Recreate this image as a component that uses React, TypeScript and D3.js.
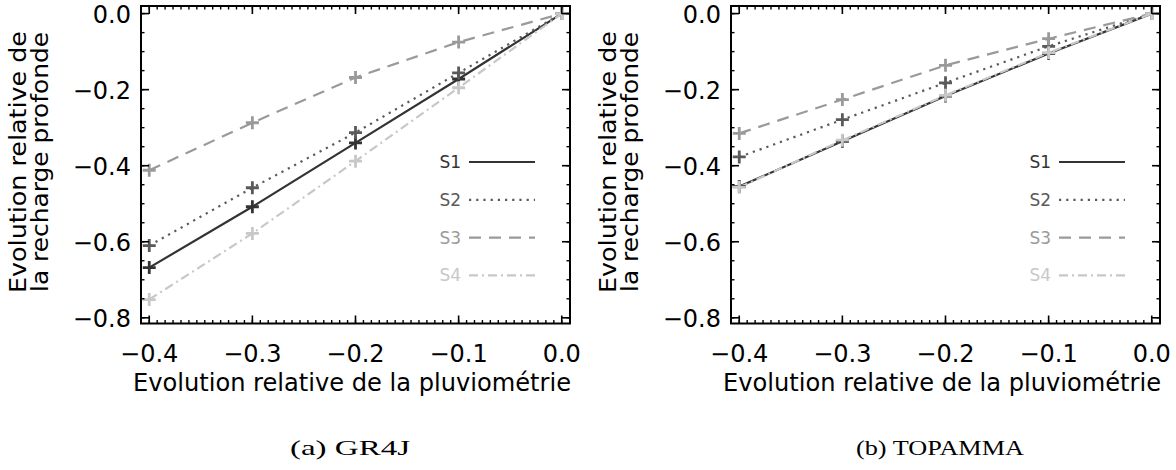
import React from "react";
import * as d3 from "d3";

// ---------- data ----------
const rainChange = [-0.4, -0.3, -0.2, -0.1, 0.0];
const seriesNames = ["S1", "S2", "S3", "S4"];

const gr4jS1 = [-0.668, -0.508, -0.34, -0.172, 0];
const gr4jS2 = [-0.61, -0.458, -0.313, -0.156, 0];
const gr4jS3 = [-0.412, -0.287, -0.168, -0.075, 0];
const gr4jS4 = [-0.752, -0.578, -0.388, -0.195, 0];

const topammaS1 = [-0.455, -0.336, -0.217, -0.105, 0];
const topammaS2 = [-0.377, -0.279, -0.182, -0.086, 0];
const topammaS3 = [-0.315, -0.226, -0.136, -0.066, 0];
const topammaS4 = [-0.457, -0.333, -0.215, -0.103, 0];

const xTicks = [-0.4, -0.3, -0.2, -0.1, 0.0];
const yTicks = [0.0, -0.2, -0.4, -0.6, -0.8];

const xTitle = "Evolution relative de la pluviométrie";
const yTitle1 = "Evolution relative de";
const yTitle2 = "la recharge profonde";
const captions = ["(a) GR4J", "(b) TOPAMMA"];

// ---------- styles ----------
const seriesStyle = [
  { color: "#333333", dash: "none" },
  { color: "#5a5a5a", dash: "2.2,5" },
  { color: "#9a9a9a", dash: "12,8" },
  { color: "#c8c8c8", dash: "9,4,2,4" },
];

const SANS = "'DejaVu Sans', Verdana, sans-serif";
const SERIF = "'Liberation Serif', 'DejaVu Serif', serif";

type PanelProps = {
  ox: number;
  data: number[][];
  caption: string;
  captionLen: number;
};

function Panel({ ox, data, caption, captionLen }: PanelProps) {
  const L = ox + 141;
  const R = ox + 570;
  const T = 6;
  const B = 323.5;
  const x = d3.scaleLinear().domain([-0.408, 0.008]).range([L, R]);
  const y = d3.scaleLinear().domain([0.02, -0.815]).range([T, B]);
  const fmt = d3.format(".1f");

  const line = d3
    .line<number>()
    .x((_, i) => x(rainChange[i]))
    .y((d) => y(d));

  // minor ticks
  const xMinor: number[] = [];
  const xStep = 0.1 / 13;
  for (let k = -60; k <= 60; k++) {
    const v = -0.4 + k * xStep;
    if (v > -0.408 && v < 0.008) xMinor.push(v);
  }
  const yMinor: number[] = [];
  for (let k = -2; k <= 18; k++) {
    const v = -k * 0.05;
    if (v < 0.02 && v > -0.815) yMinor.push(v);
  }

  const majLen = 8;
  const minLen = 3.5;
  const ps = 6.5;

  const legendY0 = 162;
  const legendDy = 37.8;

  return (
    <g>
      {/* series lines */}
      {data.map((vals, si) => (
        <path
          key={"l" + si}
          d={line(vals) || ""}
          fill="none"
          stroke={seriesStyle[si].color}
          strokeWidth={2.2}
          strokeDasharray={seriesStyle[si].dash}
        />
      ))}
      {/* markers */}
      {data.map((vals, si) =>
        vals.map((v, i) => (
          <path
            key={"m" + si + "-" + i}
            d={`M${x(rainChange[i]) - ps},${y(v)}h${2 * ps}M${x(rainChange[i])},${y(v) - ps}v${2 * ps}`}
            stroke={seriesStyle[si].color}
            strokeWidth={2.8}
            fill="none"
          />
        ))
      )}
      {/* minor ticks */}
      {xMinor.map((v, i) => (
        <g key={"xm" + i} stroke="#000" strokeWidth={1.4}>
          <line x1={x(v)} x2={x(v)} y1={B} y2={B - minLen} />
          <line x1={x(v)} x2={x(v)} y1={T} y2={T + minLen} />
        </g>
      ))}
      {yMinor.map((v, i) => (
        <g key={"ym" + i} stroke="#000" strokeWidth={1.4}>
          <line x1={L} x2={L + minLen} y1={y(v)} y2={y(v)} />
          <line x1={R} x2={R - minLen} y1={y(v)} y2={y(v)} />
        </g>
      ))}
      {/* major ticks */}
      {xTicks.map((v, i) => (
        <g key={"xt" + i} stroke="#000" strokeWidth={1.6}>
          <line x1={x(v)} x2={x(v)} y1={B} y2={B - majLen} />
          <line x1={x(v)} x2={x(v)} y1={T} y2={T + majLen} />
        </g>
      ))}
      {yTicks.map((v, i) => (
        <g key={"yt" + i} stroke="#000" strokeWidth={1.6}>
          <line x1={L} x2={L + majLen} y1={y(v)} y2={y(v)} />
          <line x1={R} x2={R - majLen} y1={y(v)} y2={y(v)} />
        </g>
      ))}
      {/* frame */}
      <rect x={L} y={T} width={R - L} height={B - T} fill="none" stroke="#000" strokeWidth={2} />
      {/* tick labels */}
      {xTicks.map((v, i) => (
        <text
          key={"xl" + i}
          x={x(v)}
          y={362}
          textAnchor="middle"
          fontFamily={SANS}
          fontSize={24}
          fill="#000"
        >
          {fmt(v)}
        </text>
      ))}
      {yTicks.map((v, i) => (
        <text
          key={"yl" + i}
          x={L - 10}
          y={y(v) + 9.5}
          textAnchor="end"
          fontFamily={SANS}
          fontSize={24}
          fill="#000"
        >
          {fmt(v)}
        </text>
      ))}
      {/* axis titles */}
      <text
        x={L - 8}
        y={391}
        fontFamily={SANS}
        fontSize={24}
        textLength={438}
        lengthAdjust="spacingAndGlyphs"
        fill="#000"
      >
        {xTitle}
      </text>
      <text
        transform={`translate(${ox + 26},${162}) rotate(-90)`}
        textAnchor="middle"
        fontFamily={SANS}
        fontSize={23}
        textLength={262}
        lengthAdjust="spacingAndGlyphs"
        fill="#000"
      >
        {yTitle1}
      </text>
      <text
        transform={`translate(${ox + 48},${162}) rotate(-90)`}
        textAnchor="middle"
        fontFamily={SANS}
        fontSize={23}
        textLength={260}
        lengthAdjust="spacingAndGlyphs"
        fill="#000"
      >
        {yTitle2}
      </text>
      {/* legend */}
      {seriesNames.map((name, si) => {
        const ly = legendY0 + si * legendDy;
        return (
          <g key={"lg" + si}>
            <text
              x={L + 320}
              y={ly + 6}
              textAnchor="end"
              fontFamily={SANS}
              fontSize={17}
              fill={seriesStyle[si].color}
            >
              {name}
            </text>
            <line
              x1={L + 328}
              x2={L + 394}
              y1={ly}
              y2={ly}
              stroke={seriesStyle[si].color}
              strokeWidth={2.2}
              strokeDasharray={seriesStyle[si].dash}
            />
          </g>
        );
      })}
      {/* caption */}
      <text
        x={ox + 350}
        y={455}
        textAnchor="middle"
        fontFamily={SERIF}
        fontSize={21}
        textLength={captionLen}
        lengthAdjust="spacingAndGlyphs"
        fill="#000"
      >
        {caption}
      </text>
    </g>
  );
}

export default function App() {
  const gr4j = [gr4jS1, gr4jS2, gr4jS3, gr4jS4];
  const topamma = [topammaS1, topammaS2, topammaS3, topammaS4];
  return (
    <svg
      width={1176}
      height={470}
      style={{ position: "absolute", left: 0, top: 0, background: "#fff" }}
    >
      <rect x={0} y={0} width={1176} height={470} fill="#fff" />
      <Panel ox={0} data={gr4j} caption={captions[0]} captionLen={120} />
      <Panel ox={590} data={topamma} caption={captions[1]} captionLen={168} />
    </svg>
  );
}
